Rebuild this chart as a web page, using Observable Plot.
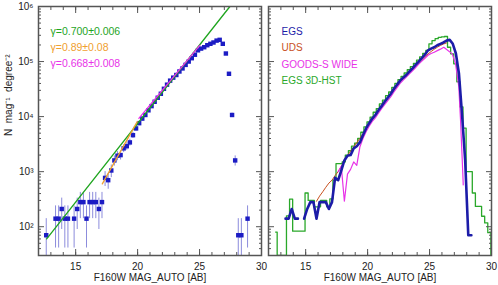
<!DOCTYPE html>
<html><head><meta charset="utf-8">
<script src="https://cdn.jsdelivr.net/npm/d3@7"></script>
<script src="https://cdn.jsdelivr.net/npm/@observablehq/plot@0.6"></script>
<style>
body{margin:0;background:#fff;}
#chart{position:relative;width:498px;height:285px;}
#chart svg{position:absolute;top:0;}
</style></head><body><div id="chart"></div>
<script>
// ---- EGS (CANDELS) counts, 0.25 mag bins (0 = empty bin)
const egsMag = [12.625,12.875,13.125,13.375,13.625,13.875,14.125,14.375,14.625,14.875,15.125,15.375,15.625,15.875,16.125,16.375,16.625,16.875,17.125,17.375,17.625,17.875,18.125,18.375,18.625,18.875,19.125,19.375,19.625,19.875,20.125,20.375,20.625,20.875,21.125,21.375,21.625,21.875,22.125,22.375,22.625,22.875,23.125,23.375,23.625,23.875,24.125,24.375,24.625,24.875,25.125,25.375,25.625,25.875,26.125,26.375,26.625,26.875,27.125,27.375,27.625,27.875,28.125,28.375,28.625,28.875];
const egsN = [70,0,0,140,140,210,140,140,0,140,210,280,280,140,280,280,280,210,280,770,700,1050,1600,1950,2000,2650,2900,3400,4600,6100,7600,9200,10700,13000,15500,18600,22000,26000,32000,38000,45000,51000,57000,66000,75000,87000,100000,115000,133000,160000,172000,182000,198000,210000,222000,240000,248000,210000,140000,60000,10700,1600,70,70,0,140];
const egsErr = [70,0,0,99,99,121,99,99,0,99,121,140,140,99,140,140,140,121,140,232,221,271,335,369,374,431,451,488,567,653,729,802,865,954,1042,1141,1241,1349,1497,1631,1775,1889,1997,2149,2291,2468,2646,2837,3051,3347,3470,3569,3723,3834,3942,4099,4166,3834,3130,2049,865,335,70,70,0,99];

// ---- power-law fits (left panel)
const fitGreenMag = [12.66, 27.45];
const fitGreenN = [60, 1000000];
const fitOrangeMag = [17.15, 19.97];
const fitOrangeN = [600, 8100];
const fitMagentaMag = [20.1, 25.02];
const fitMagentaN = [9300, 197000];
const gammaLabels = ["γ=0.700±0.006", "γ=0.89±0.08", "γ=0.668±0.008"];
const gammaColors = ["#1fa51f", "#f0a030", "#e832e8"];

// ---- UDS
const udsMag = [15.875,16.125,16.375,16.625,16.875,17.125,17.375,17.625,17.875,18.125,18.375,18.625,18.875,19.125,19.375,19.625,19.875,20.125,20.375,20.625,20.875,21.125,21.375,21.625,21.875,22.125,22.375,22.625,22.875,23.125,23.375,23.625,23.875,24.125,24.375,24.625,24.875,25.125,25.375,25.625,25.875,26.125,26.375];
const udsN = [290,360,430,520,620,700,850,1000,1250,1600,1950,2350,2800,3400,4000,4900,5900,7200,8700,10500,12800,15200,18000,21500,25500,30000,35500,42000,49000,57000,65000,74000,85000,96000,108000,122000,137000,152000,167000,182000,196000,208000,218000];

// ---- GOODS-S WIDE
const gsMag = [17.625,17.875,18.125,18.375,18.625,18.875,19.125,19.375,19.625,19.875,20.125,20.375,20.625,20.875,21.125,21.375,21.625,21.875,22.125,22.375,22.625,22.875,23.125,23.375,23.625,23.875,24.125,24.375,24.625,24.875,25.125,25.375,25.625,25.875,26.15,26.83,27.1,27.36,27.5,27.64,27.72];
const gsN = [1000,1250,290,900,1100,1500,1300,2800,4000,5300,6700,8200,9500,11500,14000,16500,19500,23000,28000,33500,40000,46000,52000,60000,68000,78000,90000,102000,115000,130000,140000,148000,158000,168000,182000,138000,91000,35000,8700,1600,575];

// ---- EGS 3D-HST histogram, 0.25 mag bins
const hstMag = [12.575,12.825,13.075,13.325,13.575,13.825,14.075,14.325,14.575,14.825,15.075,15.325,15.575,15.825,16.075,16.325,16.575,16.825,17.075,17.325,17.575,17.825,18.075,18.325,18.575,18.825,19.075,19.325,19.575,19.825,20.075,20.325,20.575,20.825,21.075,21.325,21.575,21.825,22.075,22.325,22.575,22.825,23.075,23.325,23.575,23.825,24.075,24.325,24.575,24.825,25.075,25.325,25.575,25.825,26.075,26.325,26.575,26.825,27.075,27.325,27.575,27.825,28.075,28.325,28.575,28.825,29.075,29.325,29.575,29.825,30.075];
const hstN = [80,0,0,0,158,316,83,83,83,83,410,300,300,230,230,300,300,230,320,700,1400,1400,1500,2000,2400,2900,3300,4000,5200,6500,8000,9800,12000,14000,17000,20000,24000,28000,34000,40000,47000,54000,62000,71000,81000,93000,106000,122000,140000,160000,210000,240000,260000,275000,280000,285000,182000,138000,91000,43000,15000,6200,1000,1000,410,234,234,155,117,78,0];

const legendLabels = ["EGS", "UDS", "GOODS-S WIDE", "EGS 3D-HST"];
const legendColors = ["#1c1ca8", "#c8501e", "#e832e8", "#2aa82a"];

const xTicks = [15, 20, 25, 30];
const yTicks = [100, 1000, 10000, 100000, 1000000];
const xLabel = "F160W MAG_AUTO [AB]";
const yLabel = "N  mag⁻¹  degree⁻²";

// ---------------------------------------------------------
const yMin = 30, yMax = 1e6;
const sup = {"0":"⁰","1":"¹","2":"²","3":"³","4":"⁴","5":"⁵","6":"⁶","7":"⁷","8":"⁸","9":"⁹"};
const fmtPow = d => "10" + String(Math.round(Math.log10(d))).split("").map(c => sup[c]).join("");
const minorX = d3.range(12, 31);
const minorY = [];
for (let p = 1; p <= 5; p++) for (let k = 2; k <= 9; k++) { const v = k * 10 ** p; if (v >= yMin && v <= yMax) minorY.push(v); }

const egs = egsMag.map((m, i) => ({mag: m, n: egsN[i], err: egsErr[i]}));
// line through non-empty bins; isolated bins (no non-empty neighbour) are not drawn as a line
const egsLine = egs.map((d, i) => {
  const ok = d.n > 0 && ((i > 0 && egsN[i - 1] > 0) || (i < egsN.length - 1 && egsN[i + 1] > 0));
  return {mag: d.mag, n: ok ? d.n : NaN};
});
const font = "Liberation Sans, Arial, Helvetica, sans-serif";
const frameColor = "#555";

function frameMarks(withYLabels) {
  return [
    Plot.axisX({anchor: "bottom", ticks: xTicks, tickSize: -6, fill: "none", stroke: frameColor}),
    Plot.axisX({anchor: "top", ticks: xTicks, tickSize: -6, fill: "none", stroke: frameColor}),
    Plot.axisX({anchor: "bottom", ticks: minorX, tickSize: -3, fill: "none", stroke: frameColor}),
    Plot.axisX({anchor: "top", ticks: minorX, tickSize: -3, fill: "none", stroke: frameColor}),
    Plot.axisX({anchor: "bottom", ticks: xTicks, tickSize: 0, tickPadding: 7, tickFormat: d => String(d), fontSize: 10, fill: "#222", label: null}),
    Plot.axisY({anchor: "left", ticks: yTicks, tickSize: -6, fill: "none", stroke: frameColor}),
    Plot.axisY({anchor: "right", ticks: yTicks, tickSize: -6, fill: "none", stroke: frameColor}),
    Plot.axisY({anchor: "left", ticks: minorY, tickSize: -3, fill: "none", stroke: frameColor}),
    Plot.axisY({anchor: "right", ticks: minorY, tickSize: -3, fill: "none", stroke: frameColor}),
    withYLabels ? Plot.axisY({anchor: "left", ticks: yTicks, tickSize: 0, tickPadding: 5, tickFormat: fmtPow, fontSize: 10, fill: "#222", label: null}) : null,
    Plot.frame({stroke: frameColor, strokeWidth: 1.5}),
    Plot.text([xLabel], {frameAnchor: "bottom", dy: 22, lineAnchor: "middle", fontSize: 10, fill: "#222"})
  ];
}

const common = {
  height: 285,
  marginTop: 6,
  marginBottom: 30,
  x: {domain: [12, 30]},
  y: {type: "log", domain: [yMin, yMax]},
  style: {fontFamily: font, background: "transparent", overflow: "visible"}
};

const left = Plot.plot({
  ...common,
  width: 262,
  marginLeft: 38,
  marginRight: 1,
  marks: [
    Plot.ruleX(egs.filter(d => d.n > 0), {x: "mag", y1: d => Math.max(d.n - d.err, 1), y2: d => d.n + d.err, stroke: "#8c8cdc", strokeWidth: 1, clip: true}),
    Plot.dot(egs.filter(d => d.n > 0), {x: "mag", y: "n", symbol: "square", r: 2.5, fill: "#1c1cc4", stroke: null, clip: true}),
    Plot.line(fitGreenMag.map((m, i) => ({m, n: fitGreenN[i]})), {x: "m", y: "n", stroke: gammaColors[0], strokeWidth: 1.3, clip: true}),
    Plot.line(fitOrangeMag.map((m, i) => ({m, n: fitOrangeN[i]})), {x: "m", y: "n", stroke: gammaColors[1], strokeWidth: 1.3, clip: true}),
    Plot.line(fitMagentaMag.map((m, i) => ({m, n: fitMagentaN[i]})), {x: "m", y: "n", stroke: gammaColors[2], strokeWidth: 1.3, clip: true}),
    ...gammaLabels.map((t, i) => Plot.text([t], {frameAnchor: "top-left", dx: 12, dy: 25 + i * 16.3, textAnchor: "start", lineAnchor: "middle", fontSize: 10.5, fill: gammaColors[i]})),
    Plot.text([yLabel], {frameAnchor: "left", dx: -30, dy: 5, rotate: -90, fontSize: 10, fill: "#222"}),
    ...frameMarks(true)
  ]
});

const right = Plot.plot({
  ...common,
  width: 236,
  marginLeft: 6,
  marginRight: 7,
  marks: [
    Plot.line(hstMag.map((m, i) => ({m, n: Math.max(hstN[i], yMin)})), {x: "m", y: "n", curve: "step", stroke: legendColors[3], strokeWidth: 1.3, clip: true}),
    Plot.line(udsMag.map((m, i) => ({m, n: udsN[i]})), {x: "m", y: "n", stroke: legendColors[1], strokeWidth: 1, clip: true}),
    Plot.line(gsMag.map((m, i) => ({m, n: gsN[i]})), {x: "m", y: "n", stroke: legendColors[2], strokeWidth: 1.2, clip: true}),
    Plot.line(egsLine, {x: "mag", y: "n", stroke: legendColors[0], strokeWidth: 2.6, clip: true}),
    ...legendLabels.map((t, i) => Plot.text([t], {frameAnchor: "top-left", dx: 13, dy: 25 + i * 16.4, textAnchor: "start", lineAnchor: "middle", fontSize: 10, fill: legendColors[i]})),
    ...frameMarks(false)
  ]
});

left.style.left = "0px";
right.style.left = "262px";
document.getElementById("chart").append(left, right);
</script>
</body></html>
